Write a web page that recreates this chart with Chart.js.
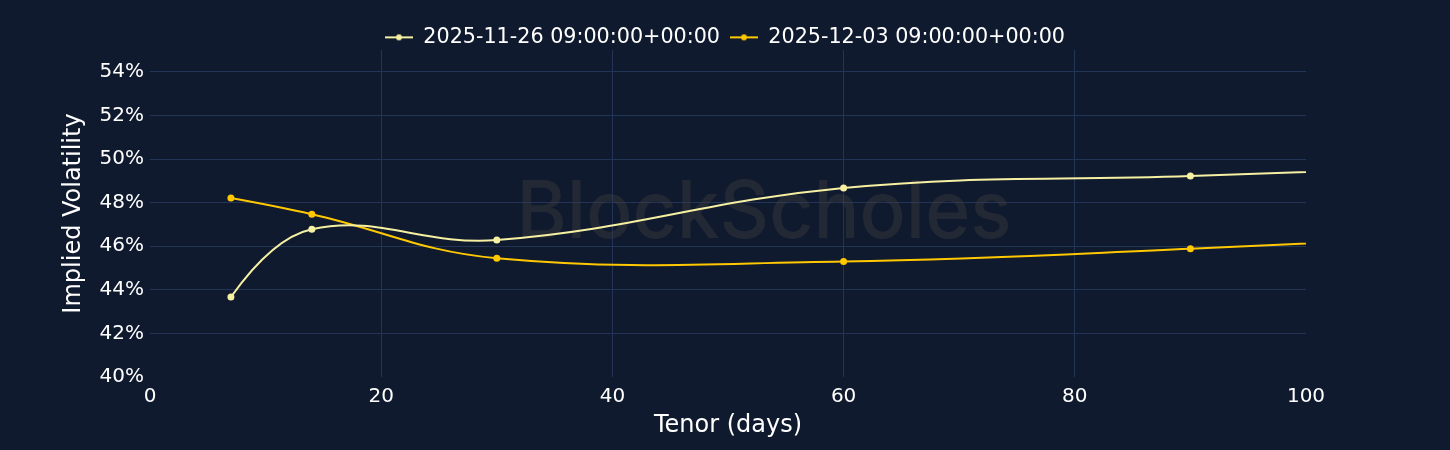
<!DOCTYPE html>
<html>
<head>
<meta charset="utf-8">
<script src="https://cdn.jsdelivr.net/npm/chart.js@4/dist/chart.umd.min.js"></script>
<style>
  html, body { margin: 0; padding: 0; background: #101a2e; }
  #wrap { width: 1450px; height: 450px; }
</style>
</head>
<body>
<div id="wrap"><canvas id="chart"></canvas></div>
<script>
const COLORS = { fondo: '#101a2e', grid: '#243456', texto: '#ffffff', claro: '#f6f0a2', oro: '#ffc800', marca: 'rgba(66,64,62,0.38)' };

// Datos (tenor en días, volatilidad implícita en %)
const tenors = [7, 14, 30, 60, 90, 180];
const iv_1126 = [43.67, 46.78, 46.28, 48.67, 49.22, 50.9];
const iv_1203 = [48.21, 47.47, 45.45, 45.30, 45.88, 48.1];
const seriesLabels = ['2025-11-26 09:00:00+00:00', '2025-12-03 09:00:00+00:00'];
const yTicks = [40, 42, 44, 46, 48, 50, 52, 54];
const xTicks = [0, 20, 40, 60, 80, 100];

const FONT = 'DejaVu Sans';

// icono de leyenda: línea con punto
function legendIcon(color) {
    const c = document.createElement('canvas');
    c.width = 28; c.height = 10;
    const g = c.getContext('2d');
    g.strokeStyle = color; g.lineWidth = 2;
    g.beginPath(); g.moveTo(0, 5); g.lineTo(28, 5); g.stroke();
    g.fillStyle = color;
    g.beginPath(); g.arc(14, 5, 3, 0, Math.PI * 2); g.fill();
    return c;
}

const toPoints = vals => tenors.map((t, i) => ({ x: t, y: vals[i] }));

const watermark = {
    id: 'watermark',
    beforeDatasetsDraw(chart) {
        const { ctx } = chart;
        ctx.save();
        ctx.font = '500 80px Inter';
        ctx.fillStyle = COLORS.marca;
        ctx.textAlign = 'center';
        ctx.textBaseline = 'middle';
        ctx.fillText('BlockScholes', 764, 214, 495);
        ctx.restore();
    }
};

const legendHeight = {
    id: 'legendHeight',
    beforeInit(chart) {
        const fit = chart.legend.fit;
        chart.legend.fit = function () { fit.bind(chart.legend)(); this.height = 33; };
    }
};

// tramos extremos como cuadráticas (como el spline de plotly)
const splineEnds = {
    id: 'splineEnds',
    beforeDatasetDraw(chart, args) {
        const meta = args.meta, line = meta.dataset;
        line.updateControlPoints(chart.chartArea, meta.iScale.axis);
        const p = line.points;
        if (!p || p.length < 3) return;
        const quad = (a, b, qx, qy, aKey, bKey) => {
            a[aKey + 'x'] = a.x + 2 / 3 * (qx - a.x); a[aKey + 'y'] = a.y + 2 / 3 * (qy - a.y);
            b[bKey + 'x'] = b.x + 2 / 3 * (qx - b.x); b[bKey + 'y'] = b.y + 2 / 3 * (qy - b.y);
        };
        const n = p.length;
        quad(p[0], p[1], p[1].cp1x, p[1].cp1y, 'cp2', 'cp1');
        quad(p[n - 2], p[n - 1], p[n - 2].cp2x, p[n - 2].cp2y, 'cp2', 'cp1');
        line._path = undefined;
    }
};

new Chart(document.getElementById('chart'), {
    type: 'line',
    data: {
        datasets: [
            { label: seriesLabels[0], data: toPoints(iv_1126), borderColor: COLORS.claro, backgroundColor: COLORS.claro },
            { label: seriesLabels[1], data: toPoints(iv_1203), borderColor: COLORS.oro, backgroundColor: COLORS.oro }
        ]
    },
    options: {
        responsive: true,
        maintainAspectRatio: false,
        animation: false,
        layout: { padding: { top: 17, left: 0, right: 0, bottom: 0 } },
        elements: {
            line: { borderWidth: 2, tension: 0.4 },
            point: { radius: 3.5, hoverRadius: 4, borderWidth: 0, pointStyle: 'circle' }
        },
        plugins: {
            tooltip: { enabled: false },
            legend: {
                position: 'top',
                labels: {
                    color: COLORS.texto,
                    font: { family: FONT, size: 20.7 },
                    padding: 10,
                    usePointStyle: true,
                    pointStyleWidth: 28,
                    boxHeight: 10,
                    generateLabels(chart) {
                        return chart.data.datasets.map((ds, i) => ({
                            text: ds.label, fontColor: COLORS.texto, datasetIndex: i,
                            pointStyle: legendIcon(ds.borderColor), strokeStyle: ds.borderColor, fillStyle: ds.borderColor, lineWidth: 0
                        }));
                    }
                }
            }
        },
        scales: {
            x: {
                type: 'linear', min: 0, max: 100,
                afterBuildTicks: s => { s.ticks = xTicks.map(v => ({ value: v })); },
                afterFit: s => { s.height = 73; },
                border: { display: false },
                grid: { drawTicks: false, color: c => (c.tick && (c.tick.value === 0 || c.tick.value === 100)) ? 'transparent' : COLORS.grid },
                ticks: { color: COLORS.texto, font: { family: FONT, size: 20 }, padding: 8, maxRotation: 0 },
                title: { display: true, text: 'Tenor (days)', color: COLORS.texto, font: { family: FONT, size: 24 }, padding: { top: 0, bottom: 10 } }
            },
            y: {
                min: 40, max: 55,
                afterBuildTicks: s => { s.ticks = yTicks.map(v => ({ value: v })); },
                afterFit: s => { s.width = 150; },
                border: { display: false },
                grid: { drawTicks: false, color: c => (c.tick && c.tick.value === 40) ? 'transparent' : COLORS.grid },
                ticks: { color: COLORS.texto, font: { family: FONT, size: 20 }, padding: 6, callback: v => v + '%' },
                title: { display: true, text: 'Implied Volatility', color: COLORS.texto, font: { family: FONT, size: 24 }, padding: { top: 59, bottom: 0 } }
            },
            yr: {
                position: 'right', display: true, min: 0, max: 1,
                afterFit: s => { s.width = 144; },
                border: { display: false },
                grid: { display: false },
                ticks: { display: false }
            }
        }
    },
    plugins: [watermark, legendHeight, splineEnds]
});
</script>
</body>
</html>
